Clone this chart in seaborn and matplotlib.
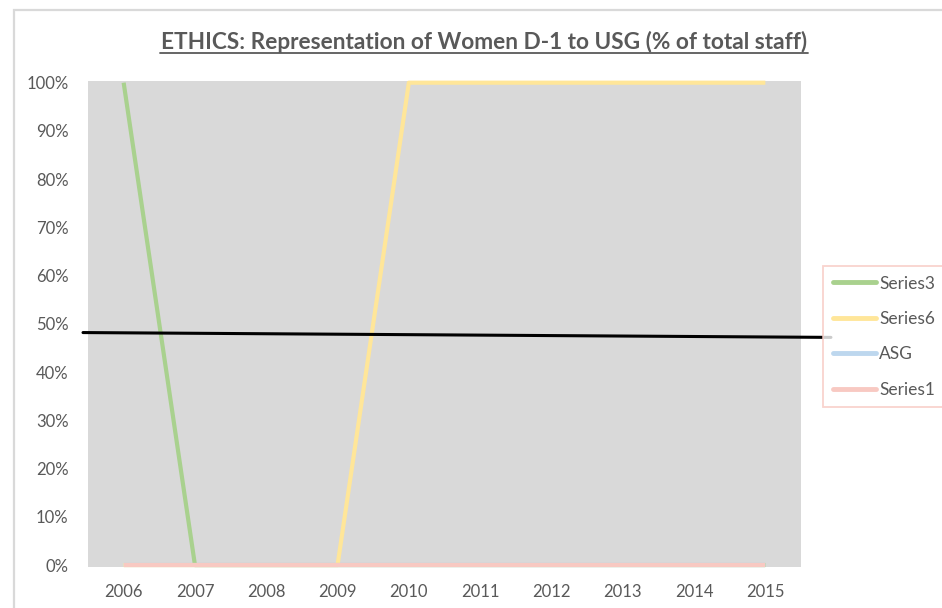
import matplotlib
matplotlib.use("Agg")
import matplotlib.pyplot as plt
import seaborn as sns
import pandas as pd
import numpy as np
from matplotlib.patches import Rectangle
from matplotlib.lines import Line2D

years = [2006, 2007, 2008, 2009, 2010, 2011, 2012, 2013, 2014, 2015]
series3 = [1.0, 0.0, 0.0, 0.0, 0.0, 0.0, 0.0, 0.0, 0.0, 0.0]
series6 = [0.0, 0.0, 0.0, 0.0, 1.0, 1.0, 1.0, 1.0, 1.0, 1.0]
asg = [0.0, 0.0, 0.0, 0.0, 0.0, 0.0, 0.0, 0.0, 0.0, 0.0]
series1 = [0.0, 0.0, 0.0, 0.0, 0.0, 0.0, 0.0, 0.0, 0.0, 0.0]
series_names = ["Series3", "Series6", "ASG", "Series1"]
colors = ["#A9D18E", "#FFE699", "#BDD7EE", "#F8C9C2"]
ref_line_y = [0.482, 0.472]
ytick_vals = [0, 0.1, 0.2, 0.3, 0.4, 0.5, 0.6, 0.7, 0.8, 0.9, 1.0]
title = "ETHICS: Representation of Women D-1 to USG (% of total staff)"

sns.set_theme(style="white")
plt.rcParams['font.family'] = ['Lato', 'DejaVu Sans']
text_color = "#595959"

df = pd.DataFrame({
    "year": years * 4,
    "value": series3 + series6 + asg + series1,
    "series": sum([[n] * len(years) for n in series_names], []),
})

W, H = 942, 608
fig = plt.figure(figsize=(W / 100, H / 100), dpi=100)
ax = fig.add_axes([88 / W, 1 - 567 / H, (801 - 88) / W, (567 - 81) / H])
ax.set_facecolor("#D9D9D9")

sns.lineplot(data=df, x="year", y="value", hue="series", hue_order=series_names,
             palette=colors, linewidth=3.0, ax=ax, legend=False, solid_capstyle="butt")
for ln in ax.get_lines():
    ln.set_clip_on(False)

ax.set_xlim(2005.5, 2015.5)
ax.set_ylim(-0.004, 1.0035)
ax.set_xticks(years)
ax.set_xticklabels([str(y) for y in years])
ax.set_yticks(ytick_vals)
ax.set_yticklabels([f"{int(round(v * 100))}%" for v in ytick_vals])
ax.tick_params(axis="both", length=0, labelsize=12, colors=text_color)
ax.tick_params(axis="x", pad=12)
ax.tick_params(axis="y", pad=14)
ax.set_xlabel("")
ax.set_ylabel("")
for s in ax.spines.values():
    s.set_visible(False)

# reference line drawn across the plot
ax.plot([2005.43, 2015.92], ref_line_y, color="black", linewidth=2.2, clip_on=False, zorder=5)

# legend
handles = [Line2D([0], [0], color=c, linewidth=3.5) for c in colors]
leg = fig.legend(handles, series_names, loc="upper left",
                 bbox_to_anchor=(823 / W, 1 - 266 / H), frameon=True,
                 fontsize=12.5, handlelength=2.5, handletextpad=0.2,
                 labelspacing=1.12, borderpad=0.55, borderaxespad=0)
leg.get_frame().set_edgecolor("#F8C9C2")
leg.get_frame().set_linewidth(1.3)
leg.get_frame().set_boxstyle("square", pad=0)
for t in leg.get_texts():
    t.set_color(text_color)

# chart area border
fig.patches.append(Rectangle((14 / W, -0.1), 1.2, 1 - 10 / H + 0.1, transform=fig.transFigure,
                             fill=False, edgecolor="#D9D9D9", linewidth=1.6))

fig.text(484 / W, 1 - 42 / H, title, ha="center", va="center", fontsize=16.3,
         fontweight="bold", color=text_color)
fig.add_artist(Line2D([160 / W, 808 / W], [1 - 53 / H, 1 - 53 / H], color=text_color,
                      linewidth=1.3, transform=fig.transFigure))

fig.savefig("out.png", dpi=100)
